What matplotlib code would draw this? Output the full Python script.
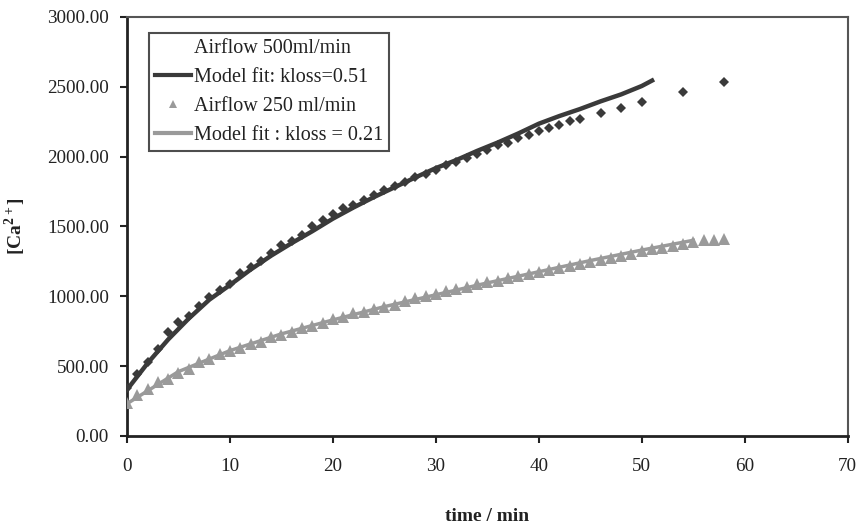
import numpy as np
import matplotlib
matplotlib.use('Agg')
import matplotlib.pyplot as plt
from matplotlib.lines import Line2D

plt.rcParams['font.family'] = ['Liberation Serif', 'DejaVu Serif']
plt.rcParams['mathtext.fontset'] = 'custom'
plt.rcParams['mathtext.rm'] = 'Liberation Serif'
plt.rcParams['mathtext.bf'] = 'Liberation Serif:bold'

# Airflow 500 ml/min, measured
t500 = list(range(0, 45)) + [46, 48, 50, 54, 58]
ca500 = [340, 440, 530, 620, 740, 818, 860, 930, 993, 1045,
         1090, 1165, 1208, 1250, 1310, 1365, 1398, 1440, 1499, 1547,
         1585, 1628, 1650, 1690, 1728, 1760, 1790, 1819, 1850, 1876,
         1905, 1940, 1960, 1990, 2020, 2048, 2080, 2100, 2130, 2155,
         2185, 2203, 2227, 2251, 2272, 2310, 2351, 2389, 2460, 2536]

# model fit kloss = 0.51
tfit500 = [0, 2, 4, 6, 8, 10, 12, 14, 16, 18, 20, 22, 24, 26, 28, 30,
           32, 34, 36, 38, 40, 42, 44, 46, 48, 50, 51]
fit500 = [330, 520, 690, 840, 975, 1080, 1190, 1290, 1380, 1465, 1555,
          1635, 1710, 1780, 1850, 1917, 1975, 2040, 2100, 2165, 2235,
          2290, 2340, 2395, 2445, 2505, 2544]

# Airflow 250 ml/min, measured
t250 = list(range(0, 59))
ca250 = [238, 293, 336, 389, 408, 453, 478, 528, 549, 587,
         604, 628, 659, 675, 707, 723, 747, 771, 790, 807,
         836, 850, 878, 885, 909, 921, 938, 962, 986, 1000,
         1018, 1035, 1050, 1068, 1085, 1100, 1112, 1130, 1145, 1160,
         1175, 1190, 1205, 1218, 1232, 1248, 1262, 1275, 1290, 1305,
         1320, 1335, 1348, 1360, 1375, 1390, 1400, 1405, 1410]

# model fit kloss = 0.21
tfit250 = [0, 5, 10, 15, 20, 25, 30, 35, 40, 45, 50, 55]
fit250 = [230, 460, 610, 730, 830, 925, 1010, 1095, 1175, 1255, 1330, 1400]

dark = '#3a3a3a'
grey = '#9a9a9a'

fig = plt.figure(figsize=(8.58, 5.27), dpi=100)
ax = fig.add_axes([0.148, 0.173, 0.840, 0.795])

ax.plot(tfit250, fit250, color=grey, lw=2.5, zorder=2)
ax.plot(t250, ca250, ls='none', marker='^', ms=8, color=grey,
        markeredgewidth=0, zorder=3)
ax.plot(tfit500, fit500, color=dark, lw=3.2, zorder=2)
ax.plot(t500, ca500, ls='none', marker='D', ms=5.5, color=dark,
        markeredgewidth=0, zorder=3)

ax.set_xlim(0, 70)
ax.set_ylim(0, 3000)
ax.set_xticks(range(0, 71, 10))
ax.set_yticks(range(0, 3001, 500))
ax.set_yticklabels([f'{v:.2f}' for v in range(0, 3001, 500)])
ax.tick_params(labelsize=13.8, direction='out', length=5, width=1.5,
               color='#222222', labelcolor='#222222')
ax.tick_params(axis='x', pad=11)
ax.tick_params(axis='y', pad=8)

for s in ['left', 'bottom']:
    ax.spines[s].set_linewidth(2)
    ax.spines[s].set_color('#222222')
for s in ['top', 'right']:
    ax.spines[s].set_linewidth(1.5)
    ax.spines[s].set_color('#555555')

ax.set_xlabel('time / min', fontsize=14, fontweight='bold', labelpad=24,
              color='#222222')
ax.set_ylabel(r'[Ca$^{\mathbf{2+}}$]', fontsize=14, fontweight='bold',
              labelpad=14, color='#222222')

handles = [Line2D([], [], ls='none'),
           Line2D([], [], color=dark, lw=3),
           Line2D([], [], ls='none', marker='^', ms=6, color=grey,
                  markeredgewidth=0),
           Line2D([], [], color=grey, lw=3)]
labels = ['Airflow 500ml/min', 'Model fit: kloss=0.51',
          'Airflow 250 ml/min', 'Model fit : kloss = 0.21']
leg = ax.legend(handles, labels, loc='upper left',
                bbox_to_anchor=(0.031, 0.962), fontsize=14.5,
                frameon=True, fancybox=False, edgecolor='#222222',
                handlelength=1.75, handletextpad=0.15, labelspacing=0.5,
                borderpad=0.3, borderaxespad=0)
leg.get_frame().set_linewidth(1.5)
for txt in leg.get_texts():
    txt.set_color('#222222')

fig.savefig('out.png', dpi=100)
